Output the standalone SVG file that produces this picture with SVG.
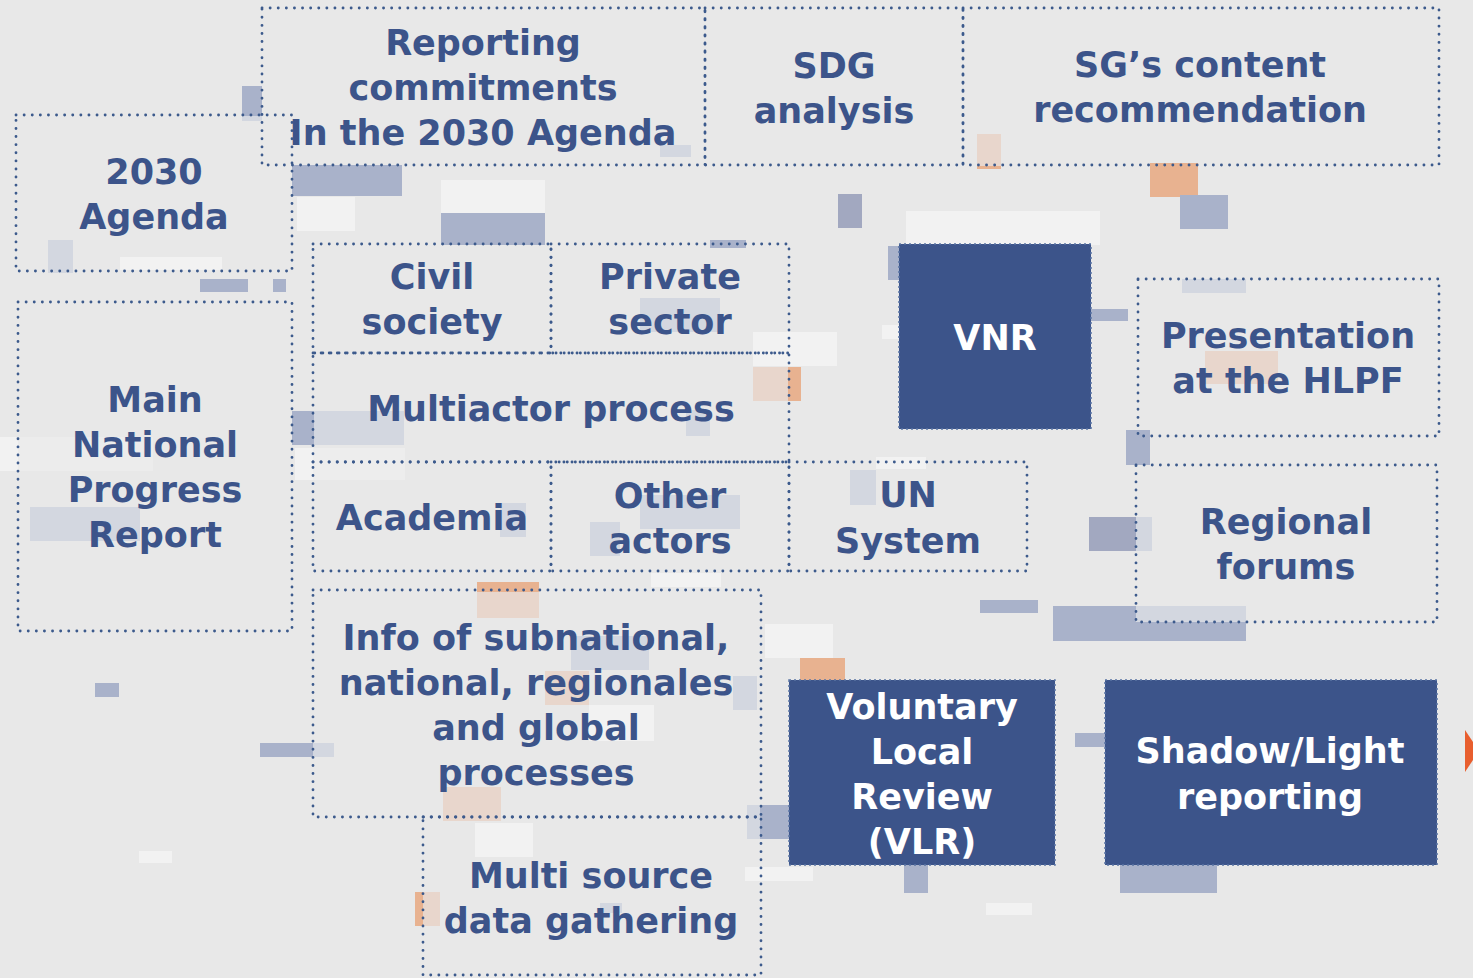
<svg xmlns="http://www.w3.org/2000/svg" width="1473" height="978" viewBox="0 0 1473 978">
<style>
.bx{fill:none;stroke:#3c5a8c;stroke-width:2.8;stroke-dasharray:0.1 8;stroke-linecap:round}
.fb{fill:#3c548a;stroke:#5a74a4;stroke-width:1.5;stroke-dasharray:2 3}
.t{font-family:"DejaVu Sans",sans-serif;font-weight:700;font-size:35px;fill:#3c548a;text-anchor:middle}
.w{fill:#ffffff}
.mb{fill:#a9b2ca}
.db{fill:#a2a8c0}
.lb{fill:#d3d7e0}
.or{fill:#e8b290}
.lo{fill:#e8d6cc}
.wh{fill:#f2f2f2}
</style>
<rect width="1473" height="978" fill="#e8e8e8"/>
<g id="decor">
<rect class="mb" x="242" y="86" width="20" height="30"/>
<rect class="lb" x="242" y="116" width="20" height="5"/>
<rect class="mb" x="292" y="165" width="110" height="31"/>
<rect class="wh" x="297" y="197" width="58" height="34"/>
<rect class="wh" x="441" y="180" width="104" height="34"/>
<rect class="mb" x="441" y="213" width="104" height="32"/>
<rect class="mb" x="710" y="240" width="36" height="8"/>
<rect class="lb" x="660" y="145" width="31" height="12"/>
<rect class="lb" x="48" y="240" width="25" height="33"/>
<rect class="wh" x="120" y="257" width="102" height="13"/>
<rect class="mb" x="200" y="279" width="48" height="13"/>
<rect class="mb" x="273" y="279" width="13" height="13"/>
<rect class="db" x="838" y="194" width="24" height="34"/>
<rect class="wh" x="906" y="211" width="194" height="34"/>
<rect class="mb" x="888" y="246" width="12" height="34"/>
<rect class="wh" x="882" y="325" width="17" height="14"/>
<rect class="lo" x="977" y="134" width="24" height="34"/>
<rect class="or" x="977" y="166" width="24" height="3"/>
<rect class="or" x="1150" y="163" width="48" height="34"/>
<rect class="mb" x="1180" y="195" width="48" height="34"/>
<rect class="mb" x="1091" y="309" width="37" height="12"/>
<rect class="lb" x="1182" y="279" width="64" height="14"/>
<rect class="lo" x="1205" y="351" width="73" height="33"/>
<rect class="mb" x="1126" y="430" width="24" height="35"/>
<rect class="db" x="1089" y="517" width="47" height="34"/>
<rect class="lb" x="1136" y="517" width="16" height="34"/>
<rect class="mb" x="980" y="600" width="58" height="13"/>
<rect class="mb" x="1053" y="606" width="193" height="35"/>
<rect class="lb" x="1136" y="606" width="110" height="16"/>
<rect class="mb" x="1075" y="733" width="30" height="14"/>
<rect class="mb" x="1120" y="865" width="97" height="28"/>
<rect class="mb" x="904" y="865" width="24" height="28"/>
<rect class="wh" x="986" y="903" width="46" height="12"/>
<rect class="mb" x="760" y="805" width="29" height="34"/>
<rect class="lb" x="747" y="805" width="13" height="34"/>
<rect class="wh" x="745" y="867" width="68" height="14"/>
<rect class="or" x="800" y="658" width="45" height="22"/>
<rect class="wh" x="765" y="624" width="68" height="34"/>
<rect class="lb" x="733" y="676" width="24" height="34"/>
<rect class="wh" x="753" y="332" width="84" height="34"/>
<rect class="lo" x="753" y="367" width="36" height="34"/>
<rect class="or" x="788" y="367" width="13" height="34"/>
<rect class="mb" x="292" y="411" width="22" height="34"/>
<rect class="lb" x="314" y="411" width="90" height="34"/>
<rect class="wh" x="295" y="448" width="18" height="32"/>
<rect class="wh" x="313" y="448" width="92" height="32" opacity="0.5"/>
<rect class="lb" x="30" y="507" width="110" height="34"/>
<rect class="wh" x="0" y="437" width="18" height="34"/>
<rect class="wh" x="18" y="437" width="135" height="34" opacity="0.4"/>
<rect class="mb" x="95" y="683" width="24" height="14"/>
<rect class="mb" x="260" y="743" width="53" height="14"/>
<rect class="lb" x="313" y="743" width="21" height="14"/>
<rect class="wh" x="139" y="851" width="33" height="12"/>
<rect class="or" x="415" y="892" width="8" height="34"/>
<rect class="lo" x="423" y="892" width="17" height="34"/>
<rect class="or" x="477" y="582" width="62" height="10"/>
<rect class="lo" x="477" y="592" width="62" height="26"/>
<rect class="lo" x="443" y="787" width="58" height="34"/>
<rect class="lb" x="571" y="636" width="78" height="34"/>
<rect class="lo" x="545" y="671" width="44" height="34"/>
<rect class="wh" x="589" y="705" width="65" height="36"/>
<rect class="lb" x="590" y="522" width="30" height="34"/>
<rect class="lb" x="640" y="495" width="100" height="34"/>
<rect class="lb" x="850" y="470" width="26" height="35"/>
<rect class="wh" x="876" y="457" width="50" height="12"/>
<rect class="lb" x="640" y="298" width="80" height="34"/>
<rect class="lb" x="500" y="503" width="26" height="34"/>
<rect class="lb" x="686" y="410" width="24" height="26"/>
<rect class="wh" x="475" y="823" width="58" height="34"/>
<rect class="wh" x="651" y="573" width="70" height="14"/>
<rect class="lb" x="600" y="903" width="22" height="10"/>
</g>
<g id="connectors"></g>
<g id="n-reporting"><rect class="bx" x="262" y="8" width="443" height="157"/><text class="t"><tspan x="483" y="55">Reporting</tspan><tspan x="483" y="100">commitments</tspan><tspan x="483" y="145">In the 2030 Agenda</tspan></text></g>
<g id="n-sdg"><rect class="bx" x="705" y="8" width="258" height="157"/><text class="t"><tspan x="834" y="78">SDG</tspan><tspan x="834" y="123">analysis</tspan></text></g>
<g id="n-sg"><rect class="bx" x="963" y="8" width="476" height="157"/><text class="t"><tspan x="1200" y="77">SG’s content</tspan><tspan x="1200" y="122">recommendation</tspan></text></g>
<g id="n-agenda"><rect class="bx" x="16" y="115" width="276" height="156"/><text class="t"><tspan x="154" y="184">2030</tspan><tspan x="154" y="229">Agenda</tspan></text></g>
<g id="n-main"><rect class="bx" x="18" y="302" width="274" height="329"/><text class="t"><tspan x="155" y="412">Main</tspan><tspan x="155" y="457">National</tspan><tspan x="155" y="502">Progress</tspan><tspan x="155" y="547">Report</tspan></text></g>
<g id="n-civil"><rect class="bx" x="313" y="244" width="238" height="109"/><text class="t"><tspan x="432" y="289">Civil</tspan><tspan x="432" y="334">society</tspan></text></g>
<g id="n-private"><rect class="bx" x="551" y="244" width="238" height="109"/><text class="t"><tspan x="670" y="289">Private</tspan><tspan x="670" y="334">sector</tspan></text></g>
<g id="n-multiactor"><rect class="bx" x="313" y="353" width="476" height="109"/><text class="t" x="551" y="421">Multiactor process</text></g>
<g id="n-academia"><rect class="bx" x="313" y="462" width="238" height="109"/><text class="t" x="432" y="530">Academia</text></g>
<g id="n-other"><rect class="bx" x="551" y="462" width="238" height="109"/><text class="t"><tspan x="670" y="508">Other</tspan><tspan x="670" y="553">actors</tspan></text></g>
<g id="n-un"><rect class="bx" x="789" y="462" width="238" height="109"/><text class="t"><tspan x="908" y="507">UN</tspan><tspan x="908" y="553">System</tspan></text></g>
<g id="n-vnr"><rect class="fb" x="899" y="244" width="192" height="185"/><text class="t w" x="995" y="350">VNR</text></g>
<g id="n-hlpf"><rect class="bx" x="1138" y="279" width="301" height="157"/><text class="t"><tspan x="1288" y="348">Presentation</tspan><tspan x="1288" y="393">at the HLPF</tspan></text></g>
<g id="n-regional"><rect class="bx" x="1136" y="465" width="301" height="157"/><text class="t"><tspan x="1286" y="534">Regional</tspan><tspan x="1286" y="579">forums</tspan></text></g>
<g id="n-info"><rect class="bx" x="313" y="590" width="448" height="227"/><text class="t"><tspan x="536" y="650">Info of subnational,</tspan><tspan x="536" y="695">national, regionales</tspan><tspan x="536" y="740">and global</tspan><tspan x="536" y="785">processes</tspan></text></g>
<g id="n-multisource"><rect class="bx" x="423" y="817" width="338" height="158"/><text class="t"><tspan x="591" y="888">Multi source</tspan><tspan x="591" y="933">data gathering</tspan></text></g>
<g id="n-vlr"><rect class="fb" x="789" y="680" width="266" height="185"/><text class="t w"><tspan x="922" y="719">Voluntary</tspan><tspan x="922" y="764">Local</tspan><tspan x="922" y="809">Review</tspan><tspan x="922" y="854">(VLR)</tspan></text></g>
<g id="n-shadow"><rect class="fb" x="1105" y="680" width="332" height="185"/><text class="t w"><tspan x="1270" y="763">Shadow/Light</tspan><tspan x="1270" y="809">reporting</tspan></text></g>
<polygon points="1465,730 1473,742 1473,760 1465,772" fill="#e85e2e"/>
</svg>
